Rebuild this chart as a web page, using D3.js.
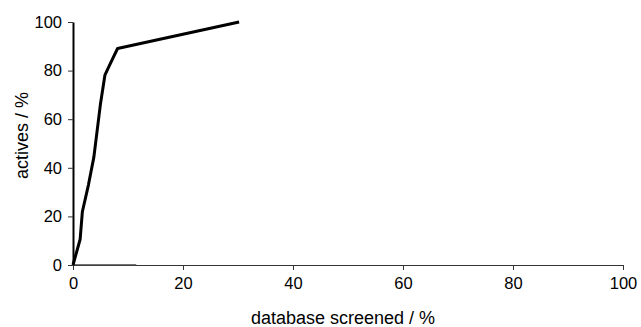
<!DOCTYPE html>
<html>
<head>
<meta charset="utf-8">
<script src="https://cdn.jsdelivr.net/npm/d3@7"></script>
<style>
  body { margin: 0; background: #fff; }
  svg text { font-family: "Liberation Sans", Arial, sans-serif; fill: #000; }
</style>
</head>
<body>
<div id="chart"></div>
<script>
// enrichment curve: % of database screened vs % of actives found
const screened = [0, 1.3, 1.7, 2.8, 3.8, 5.0, 5.8, 6.5, 8.1, 30.2];
const actives = [0, 10.6, 21.9, 32.9, 44.5, 66.4, 78.1, 81.5, 89.1, 100];
// second (flat) series lying on the x axis
const baseX = [0, 11.5];
const baseY = [0, 0];
const xTicks = [0, 20, 40, 60, 80, 100];
const yTicks = [0, 20, 40, 60, 80, 100];

const width = 641, height = 327;
const margin = {top: 22, right: 18, bottom: 62, left: 73};
const w = width - margin.left - margin.right,
  h = height - margin.top - margin.bottom;

const svg = d3.select("#chart")
  .append("svg")
  .attr("width", width)
  .attr("height", height)
  .append("g")
  .attr("transform", `translate(${margin.left},${margin.top})`);

const x = d3.scaleLinear().domain([0, 100]).range([0, w]);
const y = d3.scaleLinear().domain([0, 100]).range([h, 0]);

// X axis
const xAxis = svg.append("g")
  .attr("transform", `translate(0,${h})`)
  .call(d3.axisBottom(x).tickValues(xTicks).tickSize(5).tickSizeOuter(0).tickPadding(7));
xAxis.select(".domain").attr("stroke", "#333").attr("stroke-width", 1);
xAxis.selectAll(".tick line").attr("stroke", "#333");
xAxis.selectAll("text").style("font-size", "16.5px");

// Y axis
const yAxis = svg.append("g")
  .call(d3.axisLeft(y).tickValues(yTicks).tickSize(5).tickSizeOuter(0).tickPadding(6));
yAxis.select(".domain").attr("stroke", "#000").attr("stroke-width", 2);
yAxis.selectAll(".tick line").attr("stroke", "#333");
yAxis.selectAll("text").style("font-size", "16.5px");

// axis titles
svg.append("text")
  .attr("x", w / 2 - 5)
  .attr("y", h + 59)
  .attr("text-anchor", "middle")
  .style("font-size", "18px")
  .text("database screened / %");

svg.append("text")
  .attr("transform", `translate(${28 - margin.left},${h / 2 - 8}) rotate(-90)`)
  .attr("text-anchor", "middle")
  .style("font-size", "18px")
  .text("actives / %");

const line = d3.line()
  .x(d => x(d[0]))
  .y(d => y(d[1]));

// flat series
svg.append("path")
  .datum(baseX.map((v, i) => [v, baseY[i]]))
  .attr("fill", "none")
  .attr("stroke", "#444")
  .attr("stroke-width", 1.5)
  .attr("d", line);

// main curve
svg.append("path")
  .datum(screened.map((v, i) => [v, actives[i]]))
  .attr("fill", "none")
  .attr("stroke", "#000")
  .attr("stroke-width", 3)
  .attr("stroke-linejoin", "round")
  .attr("d", line);
</script>
</body>
</html>
